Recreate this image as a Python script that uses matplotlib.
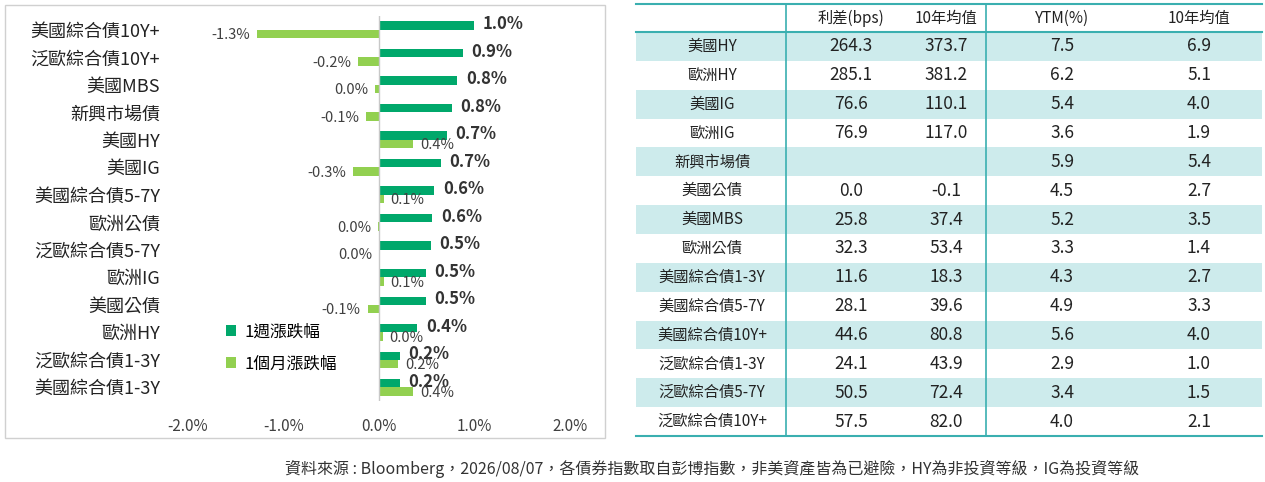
import matplotlib
matplotlib.use("Agg")
import matplotlib.pyplot as plt
from matplotlib.patches import Rectangle

plt.rcParams['font.family'] = ['Noto Sans CJK TC', 'DejaVu Sans']

# bar chart data (top to bottom)
bond_names = ["美國綜合債10Y+", "泛歐綜合債10Y+", "美國MBS", "新興市場債", "美國HY", "美國IG",
              "美國綜合債5-7Y", "歐洲公債", "泛歐綜合債5-7Y", "歐洲IG", "美國公債", "歐洲HY",
              "泛歐綜合債1-3Y", "美國綜合債1-3Y"]
week_chg = [1.0, 0.88, 0.82, 0.76, 0.71, 0.65, 0.58, 0.56, 0.54, 0.49, 0.49, 0.40, 0.22, 0.22]
month_chg = [-1.28, -0.22, -0.04, -0.14, 0.36, -0.27, 0.05, -0.01, 0.0, 0.05, -0.12, 0.04, 0.20, 0.36]

# table data
tbl_header = ["", "利差(bps)", "10年均值", "YTM(%)", "10年均值"]
tbl_names = ["美國HY", "歐洲HY", "美國IG", "歐洲IG", "新興市場債", "美國公債", "美國MBS", "歐洲公債",
             "美國綜合債1-3Y", "美國綜合債5-7Y", "美國綜合債10Y+", "泛歐綜合債1-3Y", "泛歐綜合債5-7Y", "泛歐綜合債10Y+"]
spread = ["264.3", "285.1", "76.6", "76.9", "", "0.0", "25.8", "32.3", "11.6", "28.1", "44.6", "24.1", "50.5", "57.5"]
spread_avg = ["373.7", "381.2", "110.1", "117.0", "", "-0.1", "37.4", "53.4", "18.3", "39.6", "80.8", "43.9", "72.4", "82.0"]
ytm = ["7.5", "6.2", "5.4", "3.6", "5.9", "4.5", "5.2", "3.3", "4.3", "4.9", "5.6", "2.9", "3.4", "4.0"]
ytm_avg = ["6.9", "5.1", "4.0", "1.9", "5.4", "2.7", "3.5", "1.4", "2.7", "3.3", "4.0", "1.0", "1.5", "2.1"]

W, H = 1265, 482
fig = plt.figure(figsize=(W / 100, H / 100), dpi=100)

# background overlay for box, table, footnote (pixel coordinates)
bg = fig.add_axes([0, 0, 1, 1])
bg.set_xlim(0, W)
bg.set_ylim(H, 0)
bg.axis("off")
bg.add_patch(Rectangle((5, 5), 600, 433, fill=False, ec="#d0d0d0", lw=1))

# bar chart
ax = fig.add_axes([188 / W, (H - 401) / H, 382 / W, 385 / H])
n = len(bond_names)
ypos = [n - 1 - i for i in range(n)]
green = "#00A86B"
lgreen = "#92D050"
ax.barh([y + 0.15 for y in ypos], week_chg, height=0.3, color=green, label="1週漲跌幅")
ax.barh([y - 0.15 for y in ypos], month_chg, height=0.3, color=lgreen, label="1個月漲跌幅")
for y, w, m in zip(ypos, week_chg, month_chg):
    ax.text(w + 0.09, y + 0.2, f"{w:.1f}%", fontsize=12, fontweight="bold", color="#333333",
            ha="left", va="center")
    lab = f"{abs(m):.1f}%" if round(m, 1) == 0 else f"{m:.1f}%"
    if m < 0 or (round(m, 1) == 0 and w > 0.5):
        ax.text(min(m, 0) - 0.07, y - 0.2, lab, fontsize=10.5, color="#404040", ha="right", va="center")
    else:
        ax.text(m + 0.07, y - 0.2, lab, fontsize=10.5, color="#404040", ha="left", va="center")
ax.set_xlim(-2, 2)
ax.set_ylim(-0.5, n - 0.5)
ax.set_xticks([-2, -1, 0, 1, 2])
ax.set_xticklabels(["-2.0%", "-1.0%", "0.0%", "1.0%", "2.0%"], fontsize=11, color="#404040")
ax.set_yticks(ypos)
ax.set_yticklabels(bond_names, fontsize=13, color="#222222")
ax.tick_params(length=0, pad=20)
ax.tick_params(axis="x", pad=12)
for s in ax.spines.values():
    s.set_visible(False)
ax.axvline(0, color="#c8c8c8", lw=1)
ax.patch.set_alpha(0)
ax.legend(loc="upper left", bbox_to_anchor=(0.06, 0.24), frameon=False, fontsize=12,
          handlelength=0.6, handleheight=0.6, labelspacing=0.9, handletextpad=0.5)

# table
teal = "#3AAFB0"
shade = "#CDEBEC"
x0, x1 = 636, 1262
top, head_bot = 4, 32
row_h = (436 - head_bot) / len(tbl_names)
col_cx = [712, 851, 946, 1062, 1199]
for i in range(len(tbl_names)):
    yt = head_bot + i * row_h
    if i % 2 == 0:
        bg.add_patch(Rectangle((x0, yt), x1 - x0, row_h, color=shade, lw=0))
    yc = yt + row_h / 2
    bg.text(col_cx[0], yc, tbl_names[i], fontsize=11, ha="center", va="center", color="#222222")
    for j, col in enumerate([spread, spread_avg, ytm, ytm_avg]):
        bg.text(col_cx[j + 1], yc, col[i], fontsize=12.5, ha="center", va="center", color="#222222")
for j, h in enumerate(tbl_header):
    bg.text(col_cx[j], (top + head_bot) / 2, h, fontsize=11, ha="center", va="center", color="#222222")
bg.plot([x0, x1], [top, top], color=teal, lw=1.5)
bg.plot([x0, x1], [head_bot, head_bot], color=teal, lw=1.5)
bg.plot([x0, x1], [436, 436], color=teal, lw=1.5)
bg.plot([786, 786], [top, 436], color=teal, lw=1.2)
bg.plot([986, 986], [top, 436], color=teal, lw=1.2)

bg.text(712, 469, "資料來源 : Bloomberg，2026/08/07，各債券指數取自彭博指數，非美資產皆為已避險，HY為非投資等級，IG為投資等級",
        fontsize=11.5, ha="center", va="center", color="#333333")

fig.savefig("out.png", dpi=100)
